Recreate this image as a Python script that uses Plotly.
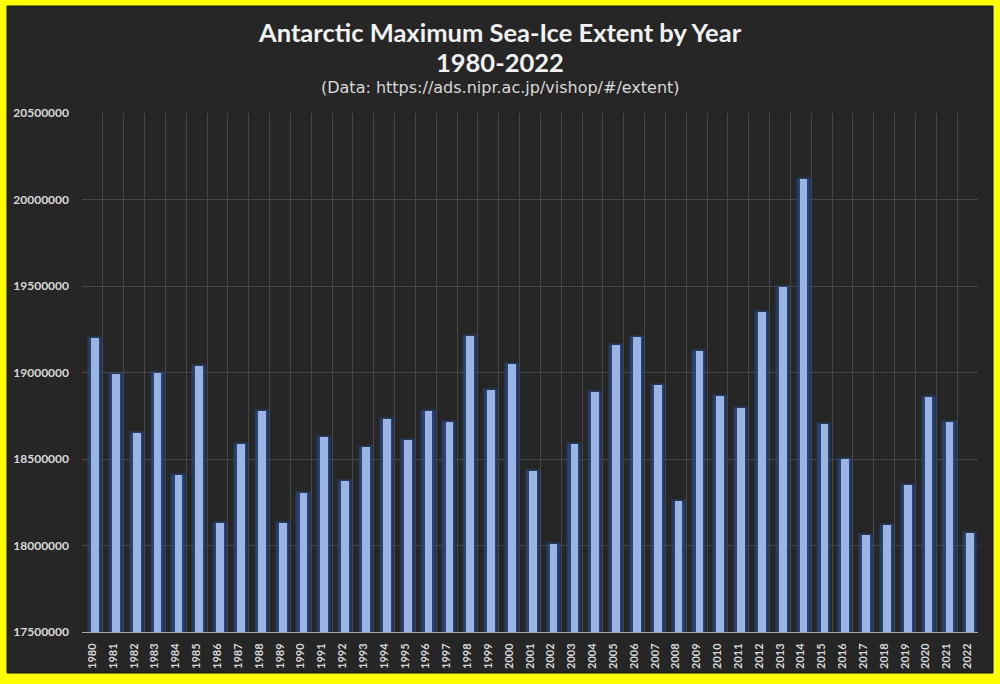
import plotly.graph_objects as go

years = [str(y) for y in range(1980, 2023)]
extent = [
    19200000, 18990000, 18650000, 18995000, 18405000, 19040000, 18130000, 18587000,
    18778000, 18131000, 18304000, 18628000, 18373000, 18570000, 18730000, 18607000,
    18778000, 18713000, 19210000, 18898000, 19052000, 18430000, 18008000, 18587000,
    18890000, 19158000, 19205000, 18927000, 18260000, 19123000, 18863000, 18792000,
    19347000, 19497000, 20119000, 18705000, 18500000, 18062000, 18118000, 18351000,
    18859000, 18713000, 18075000,
]
y_ticks = [17500000, 18000000, 18500000, 19000000, 19500000, 20000000, 20500000]

title_1 = "Antarctic Maximum Sea-Ice Extent by Year"
title_2 = "1980-2022"
subtitle = "(Data: https://ads.nipr.ac.jp/vishop/#/extent)"

BG = "#262626"
SHIFT = 0.13
GW, CW = 0.58, 0.37
fig = go.Figure()
# glow behind bars
fig.add_trace(go.Bar(
    x=years, y=extent, width=GW, offset=-GW / 2 + SHIFT,
    marker=dict(color="rgba(40,72,130,0.85)", line=dict(color="rgba(40,72,130,0.35)", width=3)),
    hoverinfo="skip", showlegend=False,
))
# core bars
fig.add_trace(go.Bar(
    x=years, y=extent, width=CW, offset=-CW / 2 + SHIFT,
    marker=dict(color="#9CB4E4", line=dict(width=0)),
    showlegend=False,
))

L, R, T, B = 82, 22, 113, 52
W, H = 1000, 684
pw, ph = W - L - R, H - T - B

def px(xp):
    return (xp - L) / pw

def py(yp):
    return (H - B - yp) / ph

fig.add_shape(type="rect", xref="paper", yref="paper",
              x0=px(7), x1=px(993), y0=py(673), y1=py(6),
              fillcolor=BG, line=dict(color="#111111", width=1), layer="below")

fig.add_annotation(text=f"<b>{title_1}</b>", xref="paper", yref="paper",
                   x=px(500), y=py(32), xanchor="center", yanchor="middle", showarrow=False,
                   font=dict(family="Lato", size=25.5, color="#f2f2f2"))
fig.add_annotation(text=f"<b>{title_2}</b>", xref="paper", yref="paper",
                   x=px(500), y=py(62), xanchor="center", yanchor="middle", showarrow=False,
                   font=dict(family="Lato", size=25.5, color="#f2f2f2"))
fig.add_annotation(text=subtitle, xref="paper", yref="paper",
                   x=px(500), y=py(87), xanchor="center", yanchor="middle", showarrow=False,
                   font=dict(family="DejaVu Sans", size=16, color="#d9d9d9"))

fig.update_layout(
    width=W, height=H,
    margin=dict(l=L, r=R, t=T, b=B, autoexpand=False),
    paper_bgcolor="#FFFF00",
    plot_bgcolor=BG,
    barmode="overlay",
    bargap=0,
    showlegend=False,
    xaxis=dict(
        type="category", tickson="boundaries", tickangle=-90,
        showgrid=True, gridcolor="#474747", gridwidth=1,
        showline=True, linecolor="#a6a6a6", linewidth=1,
        ticks="", ticklabelstandoff=6,
        tickfont=dict(family="Lato", size=11, color="#d9d9d9", weight="bold"),
    ),
    yaxis=dict(
        range=[17500000, 20500000], tickvals=y_ticks, tickformat="d",
        showgrid=True, gridcolor="#474747", gridwidth=1,
        zeroline=False, showline=False, ticks="", ticklabelstandoff=12,
        tickfont=dict(family="Lato", size=12, color="#d9d9d9", weight="bold"),
    ),
)

fig.write_html("out.html", config={"displayModeBar": False},
               post_script="document.body.style.margin='0';document.body.style.overflow='hidden';")
